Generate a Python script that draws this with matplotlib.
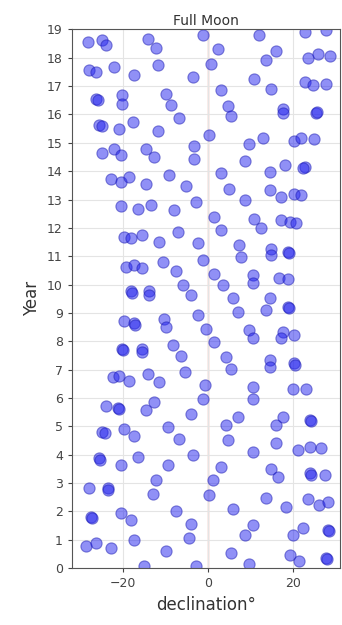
import matplotlib
matplotlib.use("Agg")
import matplotlib.pyplot as plt
import numpy as np

# full moon declination (deg) and time (years)
declination = [
    -28.4, -24.9, -24.1, -14.3, -12.3, -1.3, 2.2, 12.0, 15.9, 13.6, 22.6, 27.7, 23.4, 25.7, 28.5,
    -28.0, -26.4, -22.1, -17.4, -11.9, -3.7, 0.6, 10.8, 14.7, 22.6, 24.5, 27.7,
    -26.4, -26.0, -20.2, -20.2, -10.0, -8.8, 3.0, 4.5, 5.3, -6.8, 17.5, 17.5, 25.3, 25.6,
    -25.6, -25.0, -20.9, -17.8, -11.9, 0.2, -24.9, -22.1, -20.5, -14.7, -12.7, -3.3, -3.3,
    9.6, 12.8, 20.2, 21.8, 24.9, 8.5, 3.0, 14.4, 17.9, 22.6, 22.2,
    -22.9, -20.5, -18.6, -14.7, -9.2, -5.3, -2.9, 4.9, 8.5, 14.4, 17.1, 20.2, 21.8,
    -20.5, -16.6, -13.5, -8.0,
    1.4, 10.8, 12.4, 17.1, 19.1, 20.6, -19.8, -18.2, -15.5, -11.5, -7.2, -2.5, 3.0,
    7.3, 7.7, 14.7, 14.7, 18.7, 19.0, -19.4, -17.4, -15.5, -10.7, -7.6, -1.3, 1.4, 3.4,
    10.4, 10.4, 16.7, 18.7, -18.2, -18.0, -13.9, -13.9, -5.9, -4.1, 5.7, 14.4,
    6.9, 13.6, 18.7, 18.9, -19.8, -17.4, -17.2, -10.4, -10.0, -2.5, -0.5, 1.4, 9.6, 10.4,
    17.5, 20.2, 17.1, -20.2, -20.0, -15.5, -15.5, -8.4, -6.4, -5.6, 4.2, 5.3, 14.4, 14.4,
    20.2, 20.4, -22.5, -20.9, -18.6, -14.3, -11.5, -0.9, 10.4, 19.8, 23.0,
    -1.3, 10.4, -24.1, -21.3, -21.0, -14.7, -12.7, -4.1, 4.2, 6.9, 15.9, 17.6, 23.8, 24.0,
    -24.9, -24.4, -19.8, -17.4, -9.6, -6.8, 4.5, 10.4, 15.9, 21.0, 23.8, 26.5,
    -25.6, -25.4, -20.5, -16.6, -9.6, -3.7, 3.0, 14.7, 16.3, 23.8, 24.0, 27.3,
    -12.3, 1.0,
    -28.0, -23.7, -23.5, -13.1, 0.2, 13.6, 18.3, 23.4, 26.1, 28.1,
    -27.6, -27.3, -20.5, -18.2, -7.6, -4.1, 5.7, 8.5, 10.4, 19.8, 22.2, 28.1, 28.3,
    -28.8, -26.4, -22.9, -17.4, -10.0, -4.5, 5.3, 19.1, 21.4, 27.7, 27.9,
    -15.1, -2.9, 9.6,
]
year = [
    18.55, 18.61, 18.44, 18.67, 18.34, 18.79, 18.30, 18.81, 18.23, 17.91, 18.91, 18.97, 17.99, 18.14, 18.06,
    17.56, 17.50, 17.67, 17.38, 17.76, 17.32, 17.79, 17.26, 16.91, 17.14, 17.03, 17.09,
    16.56, 16.52, 16.67, 16.38, 16.73, 16.32, 16.85, 16.30, 15.95, 15.88, 16.20, 16.06, 16.06, 16.10,
    15.62, 15.58, 15.48, 15.73, 15.41, 15.29, 14.65, 14.79, 14.56, 14.79, 14.50, 14.89, 14.42,
    14.97, 15.17, 15.05, 15.17, 15.15, 14.35, 13.95, 13.97, 14.23, 14.15, 14.10,
    13.74, 13.62, 13.80, 13.56, 13.85, 13.48, 12.91, 13.38, 12.97, 13.32, 13.09, 13.21, 13.15,
    12.77, 12.68, 12.82, 12.62,
    12.39, 12.33, 12.00, 12.27, 12.21, 12.18, 11.68, 11.65, 11.76, 11.50, 11.86, 11.45, 11.92,
    11.39, 10.98, 11.27, 11.03, 11.15, 11.10, 10.62, 10.68, 10.59, 10.80, 10.47, 10.86, 10.39, 9.98,
    10.33, 10.04, 10.24, 10.19, 9.77, 9.72, 9.77, 9.62, 9.98, 9.62, 9.51, 9.51,
    9.04, 9.10, 9.21, 9.17, 8.71, 8.66, 8.58, 8.80, 8.51, 8.92, 8.45, 7.98, 8.39, 8.10,
    8.33, 8.21, 8.10, 7.74, 7.70, 7.74, 7.62, 7.86, 7.49, 6.92, 7.45, 7.04, 7.33, 7.10,
    7.22, 7.18, 6.74, 6.78, 6.59, 6.83, 6.55, 6.45, 6.39, 6.33, 6.33,
    5.98, 5.98, 5.72, 5.65, 5.60, 5.57, 5.86, 5.45, 5.04, 5.33, 5.04, 5.33, 5.22, 5.18,
    4.81, 4.76, 4.92, 4.67, 4.98, 4.57, 4.51, 4.10, 4.43, 4.16, 4.28, 4.24,
    3.87, 3.83, 3.65, 3.92, 3.63, 3.98, 3.57, 3.49, 3.22, 3.34, 3.30, 3.30,
    3.10, 3.10,
    2.81, 2.81, 2.77, 2.60, 2.57, 2.46, 2.16, 2.43, 2.22, 2.34,
    1.81, 1.77, 1.93, 1.69, 2.01, 1.57, 2.10, 1.16, 1.52, 1.16, 1.42, 1.34, 1.30,
    0.79, 0.87, 0.72, 0.99, 0.60, 1.05, 0.55, 0.48, 0.25, 0.36, 0.32,
    0.08, 0.08, 0.13,
]

fig = plt.figure(figsize=(3.42, 6.25), dpi=100)
ax = fig.add_subplot(111)
fig.subplots_adjust(left=0.21, right=0.995, top=0.953, bottom=0.091)

ax.grid(True, color='#e4e4e4', linewidth=0.8, zorder=0)
ax.axvline(0, color='#e07060', linewidth=0.9, zorder=1)
ax.scatter(declination, year, s=65, color='#2222ee', alpha=0.5,
           edgecolors='#1a1ab0', linewidths=0.8, zorder=2)

ax.set_xlim(-32.1, 31)
ax.set_ylim(0, 19)
ax.set_yticks(np.arange(0, 20, 1))
ax.set_xticks([-20, 0, 20])
ax.tick_params(labelsize=9, colors='#444444', length=3)
for s in ax.spines.values():
    s.set_color('#555555')

ax.set_title('Full Moon', fontsize=10, color='#333333', pad=3)
ax.set_ylabel('Year', fontsize=12, color='#333333')
ax.set_xlabel('declination°', fontsize=12, color='#333333')

fig.savefig('out.png', dpi=100)
